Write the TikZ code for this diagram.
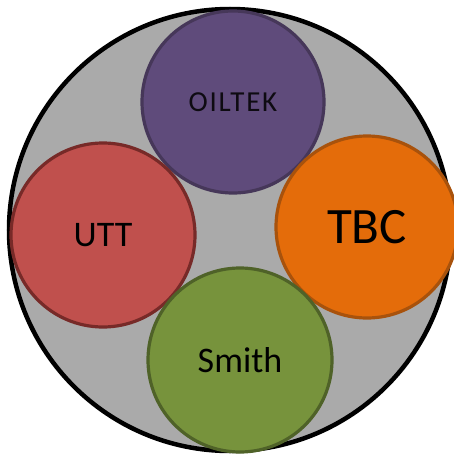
\documentclass[tikz,border=0pt]{standalone}
\usepackage{fontspec}
\setmainfont{Carlito}
\newfontfamily\spacedfont[LetterSpace=6]{Carlito}
\definecolor{ringgray}{HTML}{AAAAAA}
\definecolor{purplefill}{HTML}{5F4B7B}
\definecolor{purpleline}{HTML}{463759}
\definecolor{redfill}{HTML}{C0504D}
\definecolor{redline}{HTML}{772A28}
\definecolor{orangefill}{HTML}{E46C0A}
\definecolor{orangeline}{HTML}{A8520C}
\definecolor{greenfill}{HTML}{77933C}
\definecolor{greenline}{HTML}{4F6228}
\begin{document}
\begin{tikzpicture}[x=1pt,y=1pt,
  member/.style={circle, inner sep=0pt, line width=3.2pt, minimum size=#1},
  outer/.style={circle, inner sep=0pt, draw=black, line width=4.5pt, fill=ringgray, minimum size=#1}]
  \useasboundingbox (0,0) rectangle (453,-455);
  % enclosing disc
  \node[outer=442pt] (group) at (230,-230) {};
  % member companies
  \node[member=182pt, fill=purplefill, draw=purpleline, text=black!85!purplefill,
        font=\spacedfont\fontsize{29}{29}\selectfont] (oiltek) at (233,-102) {OILTEK};
  \node[member=184pt, fill=redfill, draw=redline,
        font=\fontsize{36}{36}\selectfont] (utt) at (103,-235) {UTT};
  \node[member=182pt, fill=orangefill, draw=orangeline,
        font=\fontsize{51}{51}\selectfont] (tbc) at (367,-227) {TBC};
  \node[member=184pt, fill=greenfill, draw=greenline,
        font=\fontsize{36}{36}\selectfont] (smith) at (240,-360) {Smith};
\end{tikzpicture}
\end{document}
